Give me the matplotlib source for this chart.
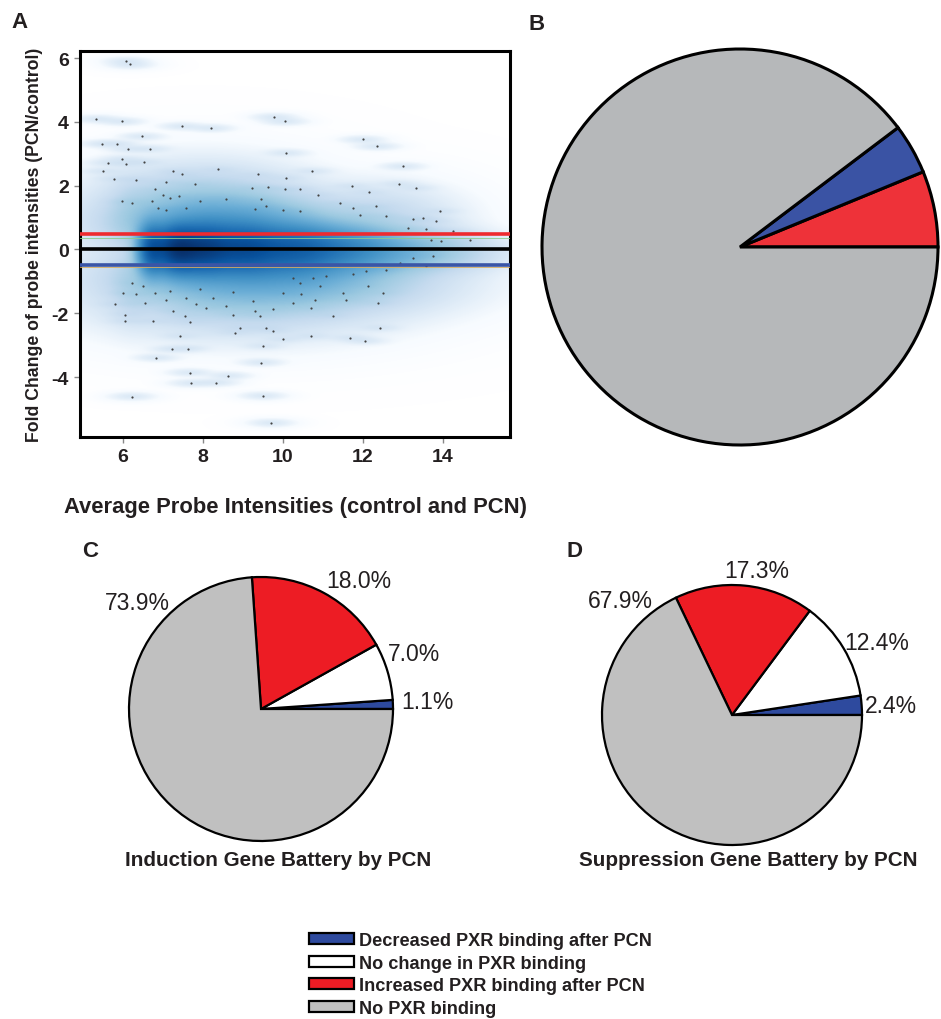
import numpy as np
import matplotlib
matplotlib.use("Agg")
import matplotlib.pyplot as plt
from matplotlib.colors import LinearSegmentedColormap
from matplotlib.patches import Patch

plt.rcParams['font.family'] = ['Liberation Sans', 'DejaVu Sans']
plt.rcParams['axes.unicode_minus'] = False

# panel A: sparse probes
probe_x = [6.08, 6.18, 5.33, 5.96, 9.78, 10.04, 7.46, 8.21, 6.46, 5.48, 5.85, 12.0, 12.36, 6.13, 6.67,
           10.08, 5.98, 5.63, 6.08, 6.53, 13.0, 8.38, 10.73, 5.5, 7.25, 7.48, 9.38, 5.78, 6.33, 10.08,
           7.08, 7.79, 12.89, 13.33, 9.23, 9.62, 10.04, 10.42, 6.79, 11.73, 12.14, 10.88, 7.0, 7.17,
           7.4, 8.58, 5.96, 6.21, 6.71, 7.92, 9.44, 11.42, 6.88, 7.08, 7.58, 9.29, 9.58, 10.0, 10.42,
           11.75, 12.33, 13.92, 11.92, 12.58, 13.25, 13.5, 13.83, 13.12, 13.58, 14.25, 13.71, 14.67,
           13.96,
           13.25, 13.75, 12.92, 13.58, 12.08, 12.58, 11.75, 10.25, 10.75, 11.08, 6.21, 6.5, 10.42,
           10.92, 12.13, 6.0, 6.33, 6.79, 7.17, 7.92, 8.75, 10.0, 10.46, 11.5, 12.5, 7.08, 7.58, 8.25,
           9.25, 10.25, 10.79, 11.58, 5.79, 6.54, 7.83, 8.58, 12.38, 7.25, 8.08, 9.29, 9.75, 10.71,
           6.04, 7.54, 8.75, 9.42, 11.25, 6.04, 6.75, 7.67, 8.92, 9.58, 12.42, 8.79, 9.75, 10.71,
           11.67, 10.0, 12.04, 7.42, 9.5, 7.21, 7.63, 6.83, 9.46, 7.67, 8.63, 7.71, 8.33, 6.21, 9.5,
           9.71]
probe_y = [5.92, 5.80, 4.10, 4.02, 4.16, 4.02, 3.87, 3.81, 3.55, 3.32, 3.32, 3.45, 3.24, 3.16, 3.16,
           3.03, 2.84, 2.72, 2.69, 2.75, 2.61, 2.51, 2.46, 2.46, 2.46, 2.35, 2.35, 2.22, 2.19, 2.25,
           2.11, 2.04, 2.06, 1.93, 1.93, 1.95, 1.90, 1.90, 1.88, 1.99, 1.80, 1.72, 1.72, 1.62,
           1.67, 1.59, 1.52, 1.46, 1.52, 1.52, 1.57, 1.46, 1.31, 1.25, 1.31, 1.27, 1.36, 1.25, 1.20,
           1.31, 1.36, 1.20, 1.07, 1.04, 0.94, 0.99, 0.89, 0.68, 0.63, 0.57, 0.31, 0.29,
           0.26,
           -0.26, -0.21, -0.42, -0.52, -0.68, -0.63, -0.78, -0.89, -0.89, -0.84, -1.04, -1.15, -1.04,
           -1.15, -1.15, -1.36, -1.41, -1.36, -1.31, -1.25, -1.34, -1.36, -1.41, -1.36, -1.36, -1.57, -1.52, -1.52,
           -1.62, -1.67, -1.57, -1.57, -1.72, -1.69, -1.72, -1.78, -1.69, -1.93, -1.83, -1.93, -1.88, -1.83,
           -2.04, -2.09, -2.04, -2.09, -2.09, -2.25, -2.25, -2.28, -2.46, -2.46, -2.46, -2.61, -2.56, -2.72,
           -2.77, -2.82, -2.87, -2.72, -3.03, -3.13, -3.11, -3.40, -3.55, -3.87, -3.97, -4.20, -4.18, -4.62, -4.60,
           -5.45]

# dense core of the cloud: centre, relative weight and spread
core_x = [6.7, 7.3, 8.0, 9.0, 10.2, 11.5, 12.9, 14.1, 15.0,
          8.5, 9.3, 8.0, 9.0, 12.3, 11.5, 6.2, 6.2]
core_y = [0.0, 0.0, 0.0, 0.0, 0.0, 0.0, -0.05, -0.1, -0.1,
          0.8, -0.8, 1.5, -1.5, 1.0, -1.1, 1.2, -1.2]
core_w = [600, 1000, 900, 700, 550, 300, 90, 25, 5,
          170, 140, 40, 40, 20, 25, 12, 12]
core_sx = [0.2, 0.35, 0.45, 0.55, 0.7, 0.8, 0.8, 0.7, 0.5,
           1.4, 1.7, 1.3, 1.8, 1.0, 1.5, 0.3, 0.3]
core_sy = [0.45, 0.43, 0.45, 0.45, 0.45, 0.42, 0.38, 0.35, 0.3,
           0.5, 0.5, 0.6, 0.6, 0.5, 0.5, 0.6, 0.6]

fc_up = 0.47
fc_down = -0.48

# panel B
b_values = [6.2, 4.1, 89.7]   # increased, decreased, no binding
b_colors = ['#EE3239', '#3A53A4', '#B6B8BA']

# panels C and D
categories = ['Decreased PXR binding after PCN', 'No change in PXR binding',
              'Increased PXR binding after PCN', 'No PXR binding']
induction_pct = [1.1, 7.0, 18.0, 73.9]
suppression_pct = [2.4, 12.4, 17.3, 67.9]
cat_colors = ['#2E4A9E', '#FFFFFF', '#ED1C24', '#C0C0C0']

W, H = 941, 1020
fig = plt.figure(figsize=(W / 100, H / 100), dpi=100)


def box(l, t, w, h):
    return [l / W, 1 - (t + h) / H, w / W, h / H]


# ---- A ----
ax = fig.add_axes(box(80, 52, 430, 386))
xmin, xmax, ymin, ymax = 4.92, 15.68, -5.88, 6.22
gx = np.linspace(xmin, xmax, 430)
gy = np.linspace(ymin, ymax, 386)
X, Y = np.meshgrid(gx, gy)
dens = np.zeros_like(X)
for cx, cy, w, sx, sy in zip(core_x, core_y, core_w, core_sx, core_sy):
    dens += w * np.exp(-0.5 * ((X - cx) / sx) ** 2 - 0.5 * ((Y - cy) / sy) ** 2)
for px, py in zip(probe_x, probe_y):
    dens += 4.0 * np.exp(-0.5 * ((X - px) / 0.3) ** 2 - 0.5 * ((Y - py) / 0.07) ** 2)
blues9 = ['#FFFFFF', '#F7FBFF', '#DEEBF7', '#C6DBEF', '#9ECAE1', '#6BAED6',
          '#4292C6', '#2171B5', '#08519C', '#08306B']
cmap = LinearSegmentedColormap.from_list('ss', blues9)
ax.imshow((dens / dens.max()) ** 0.25, cmap=cmap, vmin=0, vmax=1, origin='lower',
          extent=[xmin, xmax, ymin, ymax], aspect='auto', interpolation='bilinear')
ax.scatter(probe_x, probe_y, s=2.5, color='#444444', lw=0, zorder=3)
ax.axhline(fc_up, color='#EE2A2F', lw=2.6, zorder=4)
ax.axhline(fc_up - 0.1, color='#8CCB8C', lw=0.6, zorder=4)
ax.axhline(0, color='black', lw=2.6, zorder=4)
ax.axhline(fc_down, color='#3A55A6', lw=2.6, zorder=4)
ax.axhline(fc_down - 0.08, color='#D9AE5F', lw=0.6, zorder=4)
ax.set_xlim(xmin, xmax)
ax.set_ylim(ymin, ymax)
ax.set_xticks([6, 8, 10, 12, 14])
ax.set_yticks([-4, -2, 0, 2, 4, 6])
for s in ax.spines.values():
    s.set_linewidth(2.2)
ax.tick_params(length=4, width=1, color='#888888', pad=4, labelsize=14, labelcolor='#231F20')
for t in ax.get_xticklabels() + ax.get_yticklabels():
    t.set_fontweight('bold')
ax.set_xlabel('Average Probe Intensities (control and PCN)', fontsize=15.8,
              fontweight='bold', labelpad=22, color='#231F20')
ax.set_ylabel('Fold Change of probe intensities (PCN/control)', fontsize=12.7,
              fontweight='bold', labelpad=6, color='#231F20')


def pie_ax(cx, cy, r, pad=1.05):
    s = r * pad
    a = fig.add_axes(box(cx - s, cy - s, 2 * s, 2 * s))
    return a, pad


# ---- B ----
axb, pad = pie_ax(740, 248, 198)
axb.pie(b_values, colors=b_colors, startangle=0, counterclock=True, radius=1,
        wedgeprops=dict(edgecolor='black', linewidth=2.2))
axb.set_xlim(-pad, pad)
axb.set_ylim(-pad, pad)

# ---- C, D ----
pies = [
    (261, 710, 132, induction_pct, 'Induction Gene Battery by PCN', 278,
     [(1.26, 0.06), (1.16, 0.42), (0.74, 0.97), (-0.935, 0.81)]),
    (732, 716, 130, suppression_pct, 'Suppression Gene Battery by PCN', 748,
     [(1.22, 0.07), (1.115, 0.56), (0.19, 1.115), (-0.86, 0.88)]),
]
for cx, cy, r, vals, title, tx, lpos in pies:
    a, pad = pie_ax(cx, cy, r)
    a.pie(vals, colors=cat_colors, startangle=0, counterclock=True, radius=1,
          wedgeprops=dict(edgecolor='black', linewidth=1.6))
    a.set_xlim(-pad, pad)
    a.set_ylim(-pad, pad)
    for v, (lx, ly) in zip(vals, lpos):
        a.text(lx, ly, f'{v:.1f}%', ha='center', va='center', fontsize=16.5,
               color='#231F20', clip_on=False)
    fig.text(tx / W, 1 - 861 / H, title, ha='center', va='center', fontsize=14.9,
             fontweight='bold', color='#231F20')

# panel letters
for letter, lx, ly in [('A', 20, 22), ('B', 537, 24), ('C', 90, 552), ('D', 575, 552)]:
    fig.text(lx / W, 1 - ly / H, letter, ha='center', va='center', fontsize=16,
             fontweight='bold', color='#231F20')

# legend
handles = [Patch(facecolor=c, edgecolor='black', linewidth=1.6, label=l)
           for c, l in zip(cat_colors, categories)]
fig.legend(handles=handles, loc='upper left', bbox_to_anchor=(309 / W, 1 - 933 / H),
           frameon=False, prop=dict(weight='bold', size=13.1), handlelength=2.47,
           handleheight=0.55, handletextpad=0.27, labelspacing=0.31, borderpad=0,
           borderaxespad=0, labelcolor='#231F20')

fig.savefig('out.png', dpi=100)
